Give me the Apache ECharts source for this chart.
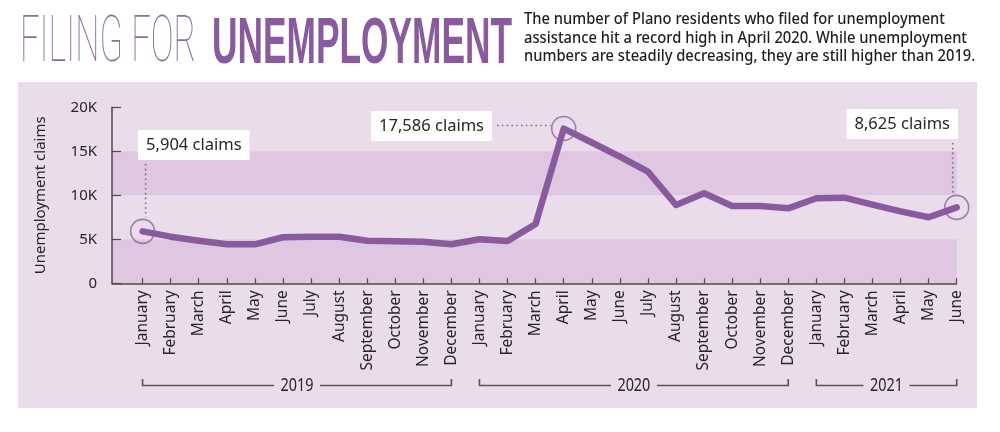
<!DOCTYPE html>
<html>
<head>
<meta charset="utf-8">
<script src="https://cdn.jsdelivr.net/npm/echarts@6/dist/echarts.min.js"></script>
<style>
html, body { margin: 0; padding: 0; background: #fff; }
#chart-container { width: 1000px; height: 432px; }
</style>
</head>
<body>
<div id="chart-container"></div>
<script>
// data
var months = ["January", "February", "March", "April", "May", "June",
  "July", "August", "September", "October", "November", "December"];
var years = ["2019", "2020", "2021"];
var claims2019 = [5904, 5300, 4840, 4430, 4430, 5230, 5300, 5300, 4840, 4770, 4730, 4430];
var claims2020 = [5000, 4800, 6740, 17586, 16000, 14400, 12680, 8900, 10230, 8780, 8780, 8520];
var claims2021 = [9660, 9730, 8950, 8180, 7500, 8625];
var yTicks = [0, 5000, 10000, 15000, 20000];
var callouts = [
  { index: 0, text: "5,904 claims" },
  { index: 15, text: "17,586 claims" },
  { index: 29, text: "8,625 claims" }
];
var titleLight = "FILING FOR";
var titleBold = "UNEMPLOYMENT";
var subtitle = [
  "The number of Plano residents who filed for unemployment",
  "assistance hit a record high in April 2020. While unemployment",
  "numbers are steadily decreasing, they are still higher than 2019."
];

var yearSeries = [claims2019, claims2020, claims2021];
var monthLabels = [];
var claims = [];
var yearSpans = [];
yearSeries.forEach(function (arr, y) {
  yearSpans.push([claims.length, claims.length + arr.length - 1]);
  arr.forEach(function (v, m) {
    monthLabels.push(months[m]);
    claims.push(v);
  });
});
var monthIdx = claims.map(function (v, i) { return i; });
var lineData = claims.map(function (v, i) { return [i, v]; });

var PURPLE = "#8a5a9f";
var RING = "#86699a";
var AXIS = "#4a4a4a";
var TEXT = "#262626";
var FONT = "Noto Sans";

function fitScale(text, font, width) {
  var ctx = document.createElement("canvas").getContext("2d");
  ctx.font = font;
  return width / ctx.measureText(text).width;
}

var dom = document.getElementById("chart-container");
var myChart = echarts.init(dom, null, { renderer: "canvas" });

var option = {
  animation: false,
  backgroundColor: "#fff",
  grid: { left: 112, right: 43.3, top: 107.3, bottom: 148.7, containLabel: false, outerBoundsMode: "none" },
  xAxis: {
    type: "value",
    min: -1.09,
    max: monthIdx.length - 1,
    axisLine: { show: true, onZero: false, lineStyle: { color: AXIS, width: 1.5 } },
    axisTick: { show: true, inside: true, length: 5, customValues: monthIdx, lineStyle: { color: AXIS, width: 1.2 } },
    axisLabel: {
      show: true, rotate: 90, customValues: monthIdx, margin: 7,
      fontSize: 15.5, fontFamily: FONT, color: TEXT,
      formatter: function (v) { return monthLabels[Math.round(v)]; }
    },
    splitLine: { show: false }
  },
  yAxis: {
    type: "value",
    min: yTicks[0],
    max: yTicks[yTicks.length - 1],
    interval: yTicks[1] - yTicks[0],
    name: "Unemployment claims",
    nameLocation: "middle",
    nameRotate: 90,
    nameGap: 64,
    nameTextStyle: { fontSize: 15, fontFamily: FONT, color: TEXT },
    axisLine: { show: true, onZero: false, lineStyle: { color: AXIS, width: 1.5 } },
    axisTick: { show: true, inside: true, length: 9, lineStyle: { color: AXIS, width: 1.2 } },
    axisLabel: {
      margin: 15, fontSize: 15, fontFamily: FONT, color: TEXT,
      formatter: function (v) { return v === 0 ? "0" : (v / 1000) + "K"; }
    },
    splitLine: { show: false },
    splitArea: { show: true, areaStyle: { color: ["#dfc7e1", "#ebdcec"] } }
  },
  series: [
    {
      type: "line",
      data: lineData,
      showSymbol: false,
      lineStyle: { color: PURPLE, width: 6.5, join: "round", cap: "round" },
      z: 4
    },
    {
      type: "scatter",
      data: callouts.map(function (c) { return [c.index, claims[c.index]]; }),
      symbol: "circle",
      symbolSize: 24,
      itemStyle: { color: "rgba(0,0,0,0)", borderColor: RING, borderWidth: 1.6 },
      z: 3
    }
  ]
};

myChart.setOption(option);

// annotations, brackets and title drawn on top using the axis scales
var g = [];
g.push({ type: "rect", z: -100, shape: { x: 18, y: 82, width: 959, height: 326 }, style: { fill: "#ebdcec" } });

var lightFont = "100 64px Roboto";
var boldFont = "bold 64px 'Liberation Sans'";
g.push({
  type: "text", x: 20, y: 45, scaleX: fitScale(titleLight, lightFont, 176),
  style: { text: titleLight, fontSize: 64, fontWeight: 100, fontFamily: "Roboto", fill: "#8b6e9b", verticalAlign: "middle" }
});
g.push({
  type: "text", x: 212, y: 45, scaleX: fitScale(titleBold, boldFont, 300),
  style: { text: titleBold, fontSize: 64, fontWeight: "bold", fontFamily: "Liberation Sans", fill: PURPLE, verticalAlign: "middle" }
});
var subFont = "500 17px 'Noto Sans'";
g.push({
  type: "text", x: 524, y: 10, scaleX: fitScale(subtitle[0], subFont, 421),
  style: { text: subtitle.join("\n"), fontSize: 17, fontWeight: 500, fontFamily: FONT, fill: "#1f1f1f", lineHeight: 18.5, verticalAlign: "top" }
});

var dot = { stroke: "#7c6a8b", lineWidth: 1.6, lineDash: [1.6, 3.2] };
callouts.forEach(function (c, k) {
  var p = myChart.convertToPixel({ gridIndex: 0 }, [c.index, claims[c.index]]);
  var box = { text: c.text, fontSize: 16.5, fontFamily: FONT, fill: TEXT, backgroundColor: "#fff", padding: [6, 8], lineHeight: 18, verticalAlign: "top" };
  if (k === 0) {
    g.push({ type: "text", z: 50, x: p[0] - 4.5, y: 130, style: Object.assign({ align: "left" }, box) });
    g.push({ type: "line", z: 50, shape: { x1: p[0] + 3, y1: 164, x2: p[0] + 3, y2: p[1] - 14 }, style: dot });
  } else if (k === 1) {
    g.push({ type: "text", z: 50, x: 492, y: 111, style: Object.assign({ align: "right" }, box) });
    g.push({ type: "line", z: 50, shape: { x1: 497, y1: p[1] - 3, x2: p[0] - 13, y2: p[1] - 3 }, style: dot });
  } else {
    g.push({ type: "text", z: 50, x: 958, y: 109, style: Object.assign({ align: "right" }, box) });
    g.push({ type: "line", z: 50, shape: { x1: p[0] - 4, y1: 143, x2: p[0] - 4, y2: p[1] - 13 }, style: dot });
  }
});

yearSpans.forEach(function (s, y) {
  var x1 = myChart.convertToPixel({ gridIndex: 0 }, [s[0], 0])[0];
  var x2 = myChart.convertToPixel({ gridIndex: 0 }, [s[1], 0])[0];
  var mid = (x1 + x2) / 2;
  var yb = 385.5;
  var bstyle = { stroke: "#555", lineWidth: 1.6, fill: null };
  g.push({ type: "polyline", shape: { points: [[x1, 379], [x1, yb], [mid - 23, yb]] }, style: bstyle });
  g.push({ type: "polyline", shape: { points: [[mid + 23, yb], [x2, yb], [x2, 379]] }, style: bstyle });
  g.push({
    type: "text", x: mid, y: yb, scaleX: 0.8,
    style: { text: years[y], fontSize: 18, fontFamily: FONT, fill: TEXT, align: "center", verticalAlign: "middle" }
  });
});

myChart.setOption({ graphic: { elements: g } });

window.addEventListener("resize", myChart.resize);
</script>
</body>
</html>
